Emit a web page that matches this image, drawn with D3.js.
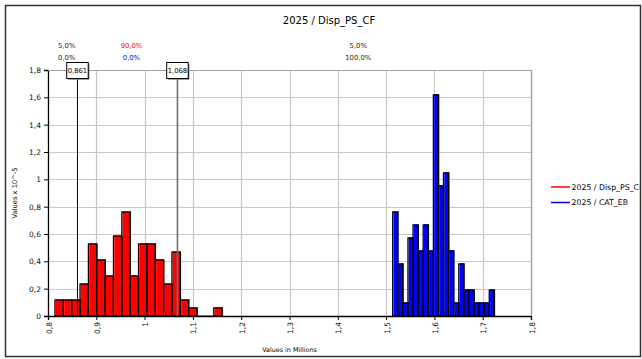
<!DOCTYPE html>
<html>
<head>
<meta charset="utf-8">
<script src="https://cdn.jsdelivr.net/npm/d3@7"></script>
<style>
  html, body { margin: 0; padding: 0; background: #fff; }
  svg { display: block; }
  text { font-family: "DejaVu Sans", Verdana, sans-serif; }
</style>
</head>
<body>
<svg id="chart" width="642" height="359"></svg>
<script>
// Histogram bin edges (values in millions) and densities (x 10^-5)
const redEdges = [0.8145, 0.8318, 0.8491, 0.8664, 0.8837, 0.9010, 0.9183, 0.9356, 0.9529, 0.9702,
                  0.9875, 1.0048, 1.0221, 1.0394, 1.0567, 1.0740, 1.0913, 1.1086, 1.1259, 1.1432, 1.1605];
const redDensity = [0.117, 0.117, 0.117, 0.234, 0.527, 0.410, 0.293, 0.585, 0.761, 0.293,
                    0.527, 0.527, 0.410, 0.234, 0.468, 0.117, 0.059, 0, 0, 0.059];

const blueEdges = [1.5137, 1.5242, 1.5347, 1.5453, 1.5558, 1.5663, 1.5768, 1.5873, 1.5979, 1.6084,
                   1.6189, 1.6294, 1.6399, 1.6505, 1.6610, 1.6715, 1.6820, 1.6925, 1.7031, 1.7136, 1.7241];
const blueDensity = [0.761, 0.381, 0.095, 0.571, 0.666, 0.476, 0.666, 0.476, 1.618, 0.952,
                     1.047, 0.476, 0.095, 0.381, 0.190, 0.190, 0.095, 0.095, 0.095, 0.190];

// Percentile markers
const markerValues = [0.861, 1.068];
const markerLabels = ["0,861", "1,068"];

// Region percentages (first series row, second series row)
const regionTop = ["5,0%", "90,0%", "5,0%"];
const regionBottom = ["0,0%", "0,0%", "100,0%"];
const regionTopColor = ["#222", "#ff0000", "#222"];
const regionBottomColor = ["#222", "#0000ff", "#222"];

const xTicks = [0.8, 0.9, 1.0, 1.1, 1.2, 1.3, 1.4, 1.5, 1.6, 1.7, 1.8];
const yTicks = [0, 0.2, 0.4, 0.6, 0.8, 1.0, 1.2, 1.4, 1.6, 1.8];

const seriesNames = ["2025 / Disp_PS_CF", "2025 / CAT_EB"];
const seriesColors = ["#ff0000", "#0000ff"];

const title = "2025 / Disp_PS_CF";
const xTitle = "Values in Millions";
const yTitle = "Values x 10^-5";

const fmt = v => String(+v.toFixed(1)).replace(".", ",");

const svg = d3.select("#chart");
const W = 642, H = 359;
const plot = { left: 48, right: 531, top: 70, bottom: 316 };

const x = d3.scaleLinear().domain([0.8, 1.8]).range([plot.left, plot.right]);
const y = d3.scaleLinear().domain([0, 1.8]).range([plot.bottom, plot.top]);

svg.append("rect").attr("width", W).attr("height", H).attr("fill", "#fff");

const defs = svg.append("defs");
defs.append("clipPath").attr("id", "chartClip")
  .append("rect").attr("x", 0).attr("y", 0).attr("width", 639.5).attr("height", H);

// Gridlines
const grid = svg.append("g");
grid.selectAll(".hg").data(yTicks.filter(d => d > 0)).join("line")
  .attr("x1", plot.left).attr("x2", plot.right)
  .attr("y1", d => Math.round(y(d)) + 0.5).attr("y2", d => Math.round(y(d)) + 0.5)
  .attr("stroke", "#c8c8c8").attr("stroke-width", 1.2);
grid.selectAll(".vg").data(xTicks.filter(d => d > 0.8)).join("line")
  .attr("y1", plot.top).attr("y2", plot.bottom)
  .attr("x1", d => Math.round(x(d)) + 0.5).attr("x2", d => Math.round(x(d)) + 0.5)
  .attr("stroke", "#c8c8c8").attr("stroke-width", 1.2);

// Title
svg.append("text")
  .attr("x", 329).attr("y", 24)
  .attr("text-anchor", "middle")
  .attr("font-size", 10).attr("fill", "#000")
  .text(title);

// Histogram bars
function drawSeries(edges, dens, color) {
  const bins = dens.map((v, i) => ({ x0: edges[i], x1: edges[i + 1], v }));
  const g = svg.append("g");
  // colored fill, nudged slightly right
  g.selectAll(".fill").data(bins).join("rect")
    .attr("x", d => x(d.x0) + 0.8)
    .attr("y", d => y(d.v) - 0.6)
    .attr("width", d => x(d.x1) - x(d.x0))
    .attr("height", d => y(0) - y(d.v) + 0.6)
    .attr("fill", color);
  // black outline
  g.selectAll(".edge").data(bins).join("rect")
    .attr("x", d => x(d.x0))
    .attr("y", d => y(d.v))
    .attr("width", d => x(d.x1) - x(d.x0))
    .attr("height", d => y(0) - y(d.v))
    .attr("fill", "none")
    .attr("stroke", "#000").attr("stroke-width", 1.3);
}
drawSeries(redEdges, redDensity, seriesColors[0]);
drawSeries(blueEdges, blueDensity, seriesColors[1]);

// Axes
const yAxis = d3.axisLeft(y).tickValues(yTicks).tickSize(4).tickPadding(3)
  .tickFormat(d => d === 0 ? "0" : fmt(d));
const yg = svg.append("g").attr("transform", `translate(${plot.left},0)`).call(yAxis);
yg.select(".domain").attr("stroke", "#000").attr("stroke-width", 1.3);
yg.selectAll(".tick line").attr("stroke", "#000");
yg.selectAll(".tick text").attr("font-size", 7.5).attr("fill", "#111")
  .attr("font-family", "DejaVu Sans");

const xAxis = d3.axisBottom(x).tickValues(xTicks).tickSize(4).tickFormat(d => fmt(d));
const xg = svg.append("g").attr("transform", `translate(0,${plot.bottom})`).call(xAxis);
xg.select(".domain").attr("stroke", "#000").attr("stroke-width", 1.3);
xg.selectAll(".tick line").attr("stroke", "#000");
xg.selectAll(".tick text")
  .attr("font-size", 7.5).attr("fill", "#111").attr("font-family", "DejaVu Sans")
  .attr("text-anchor", "end")
  .attr("dy", null)
  .attr("transform", "translate(3,6) rotate(-90)")
  .attr("x", 0).attr("y", 0);

// Plot border on top/right
svg.append("path")
  .attr("d", `M${plot.left},${plot.top + 0.5}H${plot.right + 0.5}V${plot.bottom}`)
  .attr("fill", "none").attr("stroke", "#a0a0a0").attr("stroke-width", 1.2);

// Axis titles
svg.append("text")
  .attr("transform", `translate(17,193) rotate(-90)`)
  .attr("text-anchor", "middle").attr("font-size", 6.7).attr("fill", "#000")
  .text(yTitle);
svg.append("text")
  .attr("x", (plot.left + plot.right) / 2).attr("y", 351.5)
  .attr("text-anchor", "middle").attr("font-size", 6.4).attr("fill", "#000")
  .text(xTitle);

// Percentile marker lines and value boxes
const markerStyles = [{ stroke: "#000", w: 1 }, { stroke: "#707070", w: 1.6 }];
markerValues.forEach((v, i) => {
  const mx = x(v);
  svg.append("line")
    .attr("x1", mx).attr("x2", mx)
    .attr("y1", 78).attr("y2", plot.bottom)
    .attr("stroke", markerStyles[i].stroke).attr("stroke-width", markerStyles[i].w);
  const bw = 21.5, bh = 16;
  svg.append("rect")
    .attr("x", mx - bw / 2 + 1.2).attr("y", 62.5 + 1.2).attr("width", bw).attr("height", bh)
    .attr("fill", "#777");
  svg.append("rect")
    .attr("x", mx - bw / 2).attr("y", 62.5).attr("width", bw).attr("height", bh)
    .attr("fill", "#fff").attr("stroke", "#000").attr("stroke-width", 1);
  svg.append("text")
    .attr("x", mx).attr("y", 73.2)
    .attr("text-anchor", "middle").attr("font-size", 6.8).attr("fill", "#000")
    .text(markerLabels[i]);
});

// Region percentages above the plot
const regionBounds = [0.8, markerValues[0], markerValues[1], 1.8];
regionTop.forEach((t, i) => {
  const cx = (x(regionBounds[i]) + x(regionBounds[i + 1])) / 2 + 4;
  svg.append("text").attr("x", cx).attr("y", 48.3)
    .attr("text-anchor", "middle").attr("font-size", 6.8).attr("fill", regionTopColor[i])
    .text(t);
  svg.append("text").attr("x", cx).attr("y", 59.5)
    .attr("text-anchor", "middle").attr("font-size", 6.8).attr("fill", regionBottomColor[i])
    .text(regionBottom[i]);
});

// Legend
const lg = svg.append("g").attr("clip-path", "url(#chartClip)");
seriesNames.forEach((name, i) => {
  const ly = 187 + i * 15.5;
  lg.append("line")
    .attr("x1", 551).attr("x2", 570).attr("y1", ly).attr("y2", ly)
    .attr("stroke", seriesColors[i]).attr("stroke-width", 1.3);
  lg.append("text")
    .attr("x", 571.5).attr("y", ly + 2.8)
    .attr("font-family", "'Liberation Sans', Arial, sans-serif")
    .attr("font-size", 7.8).attr("fill", "#000")
    .text(name);
});

// Outer chart border
svg.append("rect")
  .attr("x", 5.5).attr("y", 5.5).attr("width", 635).attr("height", 351)
  .attr("fill", "none").attr("stroke", "#333").attr("stroke-width", 1.5);
</script>
</body>
</html>
